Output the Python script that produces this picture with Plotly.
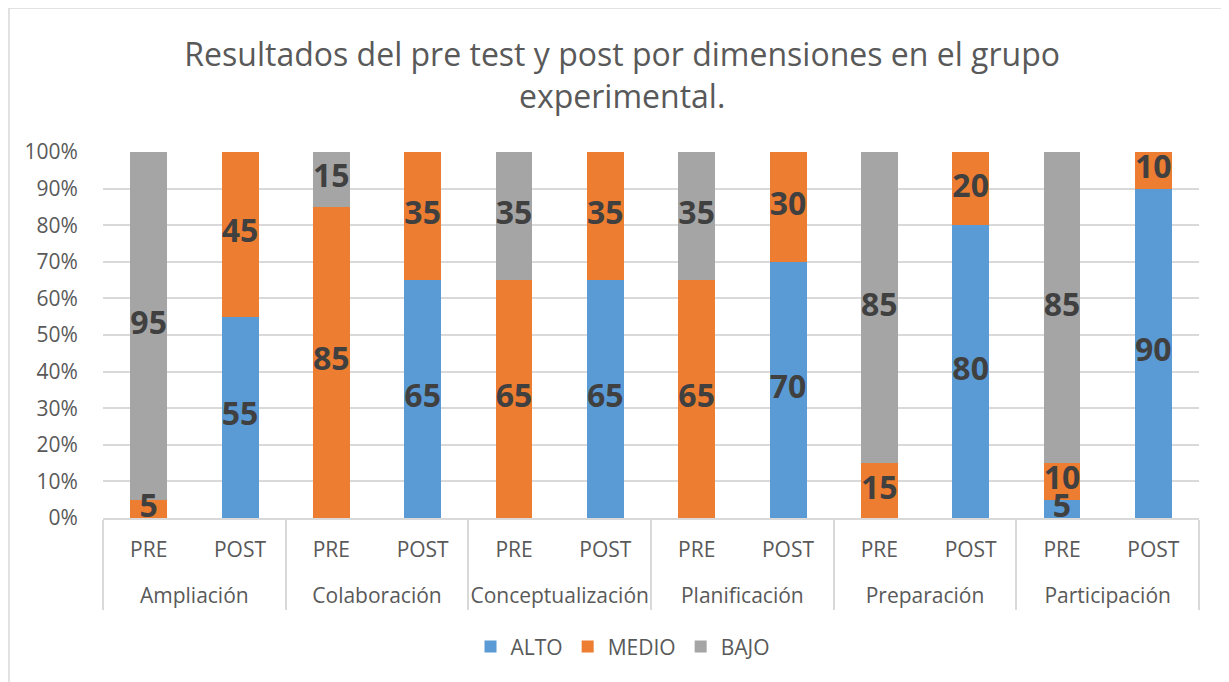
import plotly.graph_objects as go

groups = ["Ampliación", "Ampliación", "Colaboración", "Colaboración",
          "Conceptualización", "Conceptualización", "Planificación", "Planificación",
          "Preparación", "Preparación", "Participación", "Participación"]
phases = ["PRE", "POST"] * 6

alto = [0, 55, 0, 65, 0, 65, 0, 70, 0, 80, 5, 90]
medio = [5, 45, 85, 35, 65, 35, 65, 30, 15, 20, 10, 10]
bajo = [95, 0, 15, 0, 35, 0, 35, 0, 85, 0, 85, 0]

series = [("ALTO", alto, "#5b9bd5"), ("MEDIO", medio, "#ed7d31"), ("BAJO", bajo, "#a5a5a5")]

FONT = "'Open Sans', sans-serif"
W, H = 1221, 674
ML, MR, MT, MB = 95, 30, 144, 164

group_labels = ["<br>" + g for g in groups]

fig = go.Figure()
base = [0] * len(alto)
for name, vals, color in series:
    fig.add_trace(go.Bar(
        x=[group_labels, phases], y=vals, name=name, marker_color=color,
        marker_line_width=0,
    ))
for name, vals, color in series:
    mids = [b + v / 2 for b, v in zip(base, vals)]
    fig.add_trace(go.Scatter(
        x=[group_labels, phases], y=mids, mode="text",
        text=[str(v) if v else "" for v in vals],
        textposition="middle center",
        textfont=dict(family=FONT, size=32, color="#404040", weight="bold"),
        showlegend=False, hoverinfo="skip", cliponaxis=False,
    ))
    base = [b + v for b, v in zip(base, vals)]

pw = W - ML - MR
ph = H - MT - MB
fig.add_shape(type="rect", xref="paper", yref="paper",
              x0=(1 - ML) / pw, x1=(1219 - ML) / pw,
              y0=(H - MB - 690) / ph, y1=(H - MB + 0) / ph,
              line=dict(color="#d9d9d9", width=1.5), fillcolor="rgba(0,0,0,0)", layer="below")

fig.update_layout(
    width=W, height=H,
    margin=dict(l=ML, r=MR, t=MT, b=MB, autoexpand=False),
    barmode="stack", bargap=0.595,
    plot_bgcolor="white", paper_bgcolor="white",
    font=dict(family=FONT, color="#595959", size=21),
    title=dict(text="Resultados del pre test y post por dimensiones en el grupo<br>experimental.",
               x=0.503, xanchor="center", y=0.914, yanchor="middle",
               font=dict(family=FONT, size=32, color="#595959")),
    legend=dict(orientation="h", x=0.474, xanchor="center", y=-0.352, yanchor="middle",
                font=dict(family=FONT, size=21, color="#595959"), traceorder="normal"),
    xaxis=dict(type="multicategory", range=[-0.5, 11.5], autorange=False,
               showline=True, linecolor="#d9d9d9", linewidth=2,
               showdividers=True, dividercolor="#d9d9d9", dividerwidth=2,
               ticks="", ticklabelstandoff=12, automargin=False,
               tickfont=dict(family=FONT, size=21, color="#595959")),
    yaxis=dict(range=[0, 100], dtick=10, ticksuffix="%", showgrid=True,
               gridcolor="#d9d9d9", gridwidth=2, zeroline=False, automargin=False,
               ticks="outside", ticklen=20, tickcolor="rgba(0,0,0,0)",
               tickfont=dict(family=FONT, size=21, color="#595959")),
)

fig.write_html("out.html")
